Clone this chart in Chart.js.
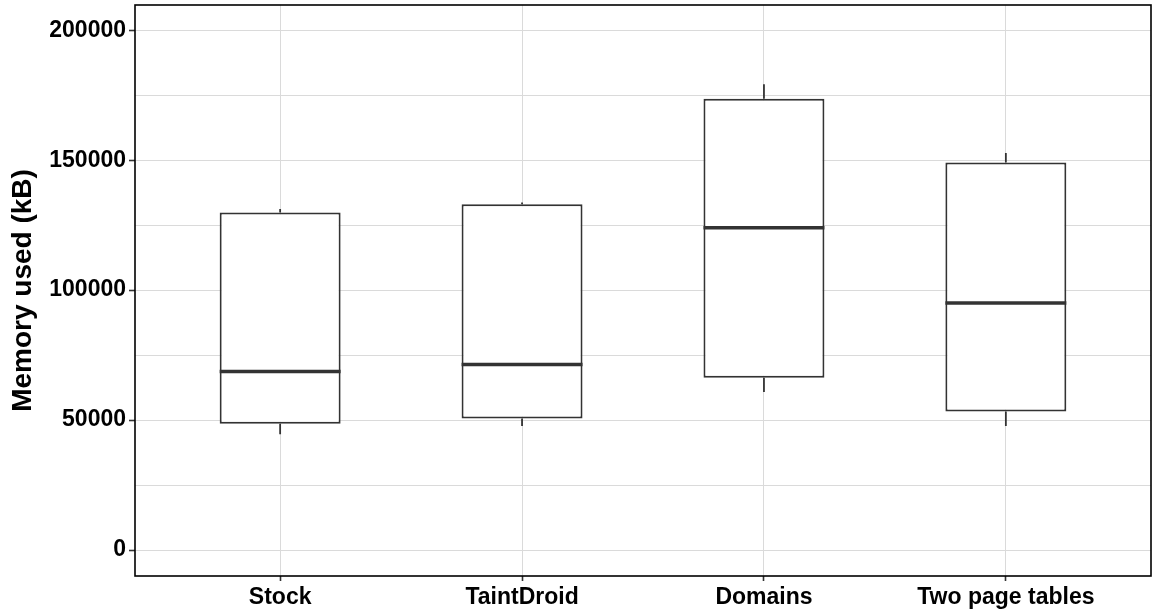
<!DOCTYPE html>
<html>
<head>
<meta charset="utf-8">
<title>Memory used</title>
<script src="https://cdn.jsdelivr.net/npm/chart.js@4/dist/chart.umd.min.js"></script>
<style>
  html, body { margin: 0; padding: 0; background: #fff; }
  #wrap { width: 1152px; height: 613px; }
</style>
</head>
<body>
<div id="wrap"><canvas id="memChart"></canvas></div>
<script>
// box plot summary per configuration (kB)
const categories = ['Stock', 'TaintDroid', 'Domains', 'Two page tables'];
const whiskerLow = [44500, 47700, 60800, 47700];
const q1 = [48600, 50600, 66300, 53300];
const medians = [68700, 71400, 124000, 95000];
const q3 = [129900, 133000, 173600, 149100];
const whiskerHigh = [131200, 133700, 179200, 152800];

// y axis breaks
const yMajor = [0, 50000, 100000, 150000, 200000];
const yMinor = [25000, 75000, 125000, 175000];

(() => {
  'use strict'

  const ink = '#333333';

  // whiskers, medians and the panel frame drawn on top of the boxes
  const boxPlotLines = {
    id: 'boxPlotLines',
    afterDatasetsDraw(chart) {
      const { ctx, scales: { x, y } } = chart;
      const bars = chart.getDatasetMeta(0).data;
      ctx.save();
      ctx.strokeStyle = ink;
      ctx.lineCap = 'butt';
      bars.forEach((bar, i) => {
        const cx = x.getPixelForValue(i + 1);
        const half = bar.width / 2;
        ctx.lineWidth = 1.8;
        ctx.beginPath();
        ctx.moveTo(cx, y.getPixelForValue(q3[i]));
        ctx.lineTo(cx, y.getPixelForValue(whiskerHigh[i]));
        ctx.moveTo(cx, y.getPixelForValue(q1[i]));
        ctx.lineTo(cx, y.getPixelForValue(whiskerLow[i]));
        ctx.stroke();
        ctx.lineWidth = 3.5;
        ctx.beginPath();
        ctx.moveTo(cx - half, y.getPixelForValue(medians[i]));
        ctx.lineTo(cx + half, y.getPixelForValue(medians[i]));
        ctx.stroke();
      });
      const a = chart.chartArea;
      ctx.strokeStyle = '#000';
      ctx.lineWidth = 1.6;
      ctx.strokeRect(a.left, a.top, a.right - a.left, a.bottom - a.top);
      ctx.restore();
    }
  };

  const ctx = document.getElementById('memChart');

  // eslint-disable-next-line no-unused-vars
  const myChart = new Chart(ctx, {
    type: 'bar',
    data: {
      datasets: [{
        data: categories.map((c, i) => ({ x: i + 1, y: [q1[i], q3[i]] })),
        backgroundColor: '#ffffff',
        borderColor: ink,
        borderWidth: 2,
        borderSkipped: false,
        categoryPercentage: 1,
        barPercentage: 0.5
      }]
    },
    options: {
      responsive: true,
      maintainAspectRatio: false,
      animation: false,
      layout: { padding: { top: 5, right: 1, left: 0, bottom: 0 } },
      plugins: {
        legend: { display: false },
        tooltip: { enabled: false }
      },
      scales: {
        x: {
          type: 'linear',
          min: 0.4,
          max: 4.6,
          offset: false,
          afterBuildTicks: (scale) => {
            scale.ticks = categories.map((c, i) => ({ value: i + 1 }));
          },
          afterFit: (scale) => {
            scale.height = 37;
            scale.paddingLeft = 0;
            scale.paddingRight = 0;
          },
          border: { display: false },
          grid: {
            offset: false,
            color: '#dadada',
            lineWidth: 1,
            drawTicks: true,
            tickLength: 5,
            tickColor: ink,
            tickWidth: 1.6
          },
          ticks: {
            autoSkip: false,
            maxRotation: 0,
            padding: 3,
            color: '#000',
            font: { family: '"Liberation Sans", Arial, sans-serif', size: 23, weight: 'bold' },
            callback: (v) => categories[v - 1]
          }
        },
        y: {
          min: -10000,
          max: 209700,
          afterBuildTicks: (scale) => {
            scale.ticks = yMajor.concat(yMinor).sort((a, b) => a - b).map((v) => ({ value: v }));
          },
          afterFit: (scale) => {
            scale.width = 135;
            scale.paddingTop = 0;
            scale.paddingBottom = 0;
          },
          border: { display: false },
          grid: {
            color: '#dadada',
            lineWidth: 1,
            drawTicks: true,
            tickLength: 6,
            tickColor: (c) => (c.tick && yMajor.includes(c.tick.value) ? ink : 'rgba(0,0,0,0)'),
            tickWidth: 1.6
          },
          ticks: {
            padding: 3,
            color: '#000',
            font: { family: '"Liberation Sans", Arial, sans-serif', size: 23, weight: 'bold' },
            callback: (v) => (yMajor.includes(v) ? String(v) : '')
          },
          title: {
            display: true,
            text: 'Memory used (kB)',
            color: '#000',
            padding: { top: 6, bottom: 0 },
            font: { family: '"Liberation Sans", Arial, sans-serif', size: 28, weight: 'bold' }
          }
        }
      }
    },
    plugins: [boxPlotLines]
  });
})();
</script>
</body>
</html>
